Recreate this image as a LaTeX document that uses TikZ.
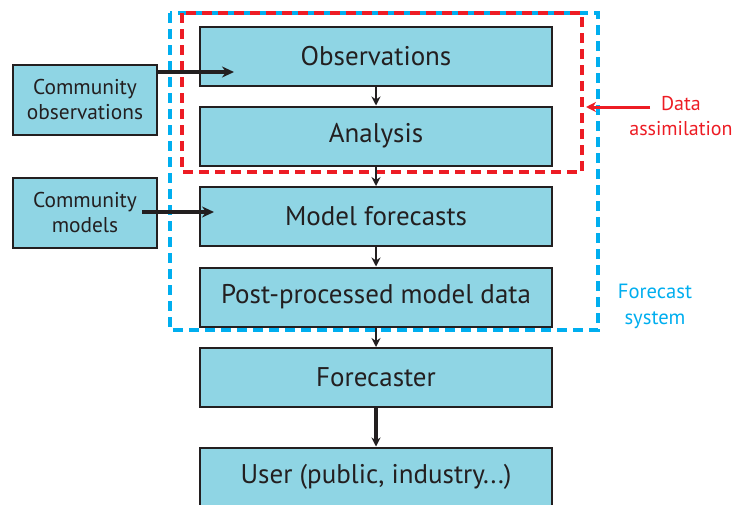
\documentclass[tikz,border=0pt]{standalone}
\usepackage{fontspec}
\setmainfont{PT Sans}
\usepackage{xcolor}
\usetikzlibrary{arrows.meta}
\definecolor{boxfill}{RGB}{143,213,228}
\definecolor{boxtext}{RGB}{35,31,32}
\definecolor{dared}{RGB}{237,28,36}
\definecolor{fcblue}{RGB}{0,174,239}
\tikzset{
mainbox/.style={draw=boxtext,line width=1pt,fill=boxfill,text=boxtext,minimum width=176pt,minimum height=29.5pt,font=\fontsize{13.5}{15}\selectfont},
sidebox/.style={draw=boxtext,line width=1pt,fill=boxfill,text=boxtext,minimum width=72pt,minimum height=35pt,align=center,font=\fontsize{10.7}{12.5}\selectfont},
flow/.style={-{Stealth[length=4.5pt,width=4.5pt]},line width=1.2pt,boxtext},
feed/.style={-{Stealth[length=6pt,width=5.5pt]},line width=1.6pt,boxtext}
}
\begin{document}
\begin{tikzpicture}[x=0.5pt,y=-0.5pt]
\useasboundingbox (0,0) rectangle (739,504);
\node[mainbox] (obs) at (376,56.5) {Observations};
\node[mainbox] (ana) at (376,136) {Analysis};
\node[mainbox] (mod) at (376,216.5) {Model forecasts};
\node[mainbox] (post) at (376,297) {Post-processed model data};
\node[mainbox] (fcst) at (376,377.5) {Forecaster};
\node[mainbox] (user) at (376,477) {User (public, industry...)};
\node[sidebox] (cobs) at (85,100) {Community\\observations};
\node[sidebox] (cmod) at (85,213) {Community\\models};
% dashed frames
\draw[fcblue,line width=2pt,dash pattern=on 5pt off 3pt] (170,13) rectangle (598,330);
\draw[dared,line width=2pt,dash pattern=on 5pt off 3pt] (182,13) rectangle (582,172);
% flow
\draw[flow] (obs) -- (ana);
\draw[flow] (ana) -- (mod);
\draw[flow] (mod) -- (post);
\draw[flow] (post) -- (fcst);
\draw[flow,line width=1.7pt] (fcst) -- (user);
\coordinate (cobsend) at (234,72);
\coordinate (cmodstart) at (142,212);
\coordinate (cmodend) at (214,212);
\draw[feed] (cobs.east |- cobsend) -- (cobsend);
\draw[feed] (cmodstart) -- (cmodend);
% labels
\node[text=dared,align=center,font=\fontsize{10}{12.5}\selectfont] (dalab) at (681,116) {Data\\assimilation};
\coordinate (dastart) at (650,107);
\coordinate (daend) at (586,107);
\draw[-{Stealth[length=5pt,width=5pt]},dared,line width=1.5pt] (dastart) -- (daend);
\node[text=fcblue,align=center,font=\fontsize{10.3}{13}\selectfont] (fslab) at (655,306) {Forecast\\system};
\end{tikzpicture}
\end{document}
